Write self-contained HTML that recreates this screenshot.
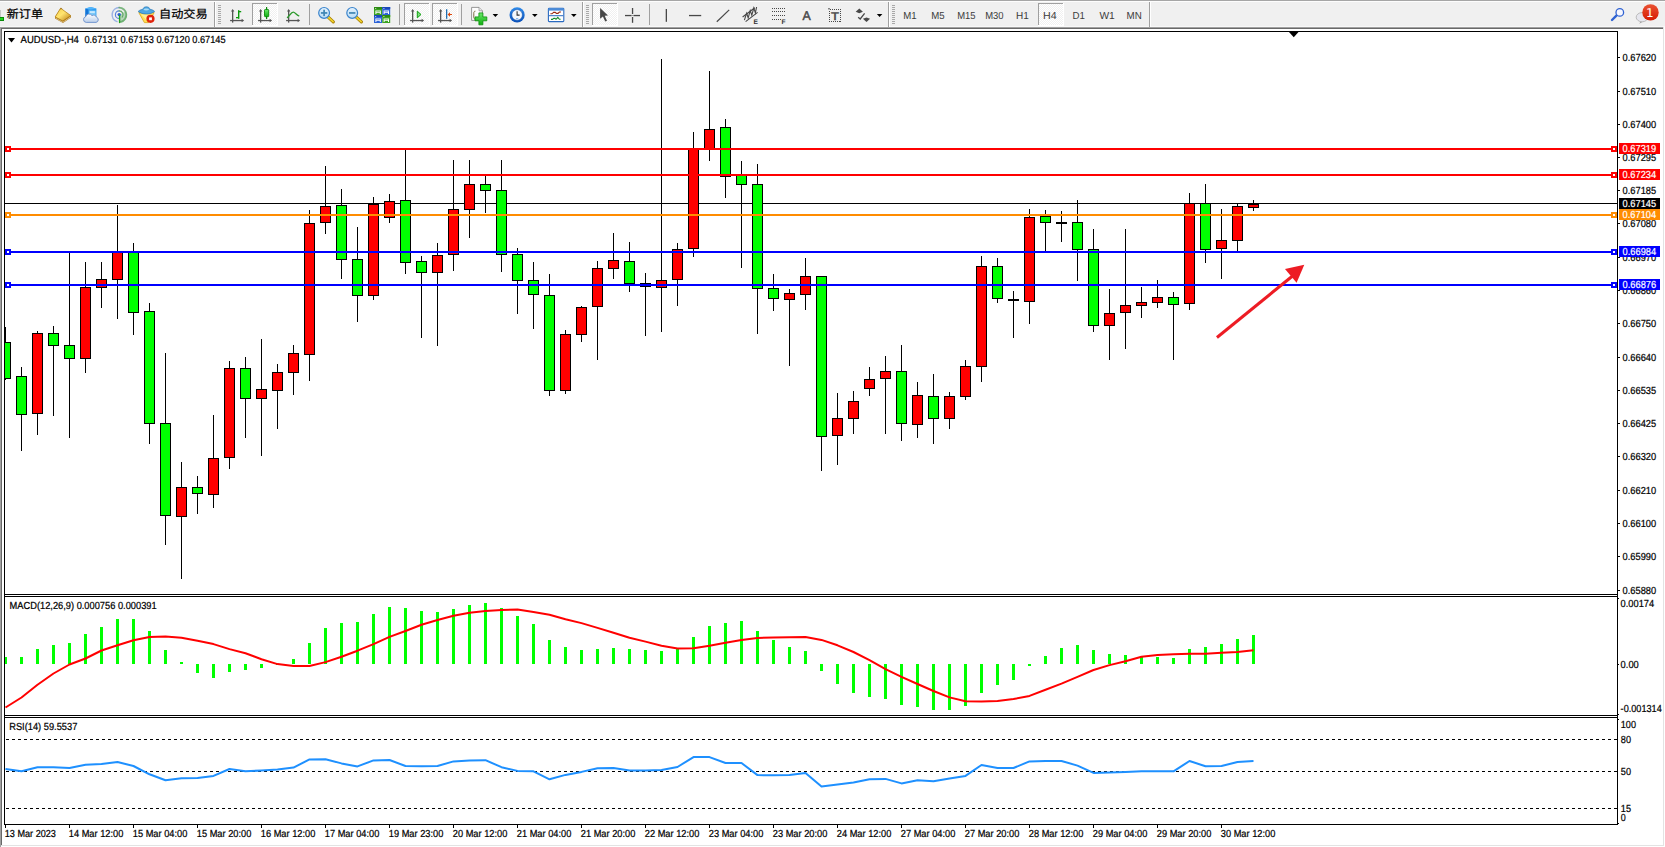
<!DOCTYPE html>
<html lang="zh"><head><meta charset="utf-8"><title>AUDUSD-,H4</title>
<style>html,body{margin:0;padding:0;background:#fff;overflow:hidden}svg{display:block}text{white-space:pre}</style>
</head><body>
<svg width="1665" height="847" viewBox="0 0 1665 847" text-rendering="geometricPrecision" font-family="'Liberation Sans',sans-serif"><rect x="0" y="0" width="1665" height="847" fill="#fff"/>
<rect x="0" y="0" width="1665" height="27" fill="#f0f0f0"/>
<rect x="0" y="0" width="1665" height="1" fill="#a6a6a6"/>
<rect x="0" y="1" width="1665" height="1" fill="#fdfdfd"/>
<rect x="0" y="26" width="1665" height="1" fill="#f8f8f8"/>
<defs>
<pattern id="chk" width="2" height="2" patternUnits="userSpaceOnUse"><rect width="2" height="2" fill="#f0f0f0"/><rect width="1" height="1" fill="#fff"/><rect x="1" y="1" width="1" height="1" fill="#fff"/></pattern>
<linearGradient id="gold" x1="0" y1="0" x2="1" y2="1"><stop offset="0" stop-color="#f7d24a"/><stop offset=".45" stop-color="#ffe470"/><stop offset="1" stop-color="#b87a10"/></linearGradient>
<linearGradient id="badge" x1="0" y1="0" x2="0" y2="1"><stop offset="0" stop-color="#ea5232"/><stop offset="1" stop-color="#d61a02"/></linearGradient>
<linearGradient id="ring" x1="0" y1="0" x2="0" y2="1"><stop offset="0" stop-color="#2e8bea"/><stop offset="1" stop-color="#0a4fb8"/></linearGradient>
<linearGradient id="lens" x1="0" y1="0" x2="0" y2="1"><stop offset="0" stop-color="#e4f2fd"/><stop offset="1" stop-color="#b9dcf6"/></linearGradient>
<linearGradient id="grn" x1="0" y1="0" x2="0" y2="1"><stop offset="0" stop-color="#6ae86a"/><stop offset="1" stop-color="#0fae0f"/></linearGradient>
</defs>
<rect x="0" y="10" width="1" height="7" fill="#c8c8c8"/>
<rect x="0" y="17" width="4" height="4" fill="#0a8a0a"/>
<rect x="0" y="18" width="3" height="2" fill="#22d322"/>
<text x="6.8" y="18.2" font-size="11.5" fill="#000" font-family="'Liberation Sans','Noto Sans CJK SC',sans-serif" textLength="36.2" lengthAdjust="spacingAndGlyphs" stroke="#000" stroke-width=".25">新订单</text>
<g><path d="M55 17L60.4 8.6L71 16L71 17.4L63 23L55 18.4z" fill="#a9741a"/><path d="M55.6 18.1L63 22.1L70.6 16.9" fill="none" stroke="#e8d49a" stroke-width=".8"/><path d="M60.6 8.2L70.8 15.6L62.8 21L55.2 16.9z" fill="url(#gold)" stroke="#b27c14" stroke-width=".7" stroke-linejoin="round"/><path d="M60.2 9.2c.8-.9 1.4-.9 2 -.4" fill="none" stroke="#8a5a0c" stroke-width=".8"/></g>
<defs><linearGradient id="cld" x1="0" y1="0" x2="0" y2="1"><stop offset="0" stop-color="#ffffff"/><stop offset="1" stop-color="#b9cdea"/></linearGradient></defs>
<g><path d="M85.4 8.4L90.6 7l5.8 1.6v8.8H85.4z" fill="#2f9df2"/><path d="M85.4 8.4L88.2 9.6V17.4H85.4z" fill="#1574d6"/><path d="M85.4 8.4L90.6 7l5.8 1.6l-5.6 1z" fill="#56b6fa"/><rect x="89" y="10.6" width="6.6" height="5.6" fill="#7ccaf9"/><rect x="90" y="11.4" width="4.8" height="1.3" fill="#e8f6ff"/><path d="M86.2 22.4a2.9 2.9 0 0 1 -.5-5.7a3.5 3.5 0 0 1 6.3-1.1a3 3 0 0 1 4.5 1.6a2.7 2.7 0 0 1 -.5 5.2z" fill="url(#cld)" stroke="#6a8fcb" stroke-width=".9"/></g>
<g fill="none" stroke-linecap="round"><path d="M119.4 15L119.4 22.6A7.7 7.7 0 0 0 126 11z" fill="#58a85e" opacity=".38" stroke="none"/><g stroke="#4a78da"><path d="M119.2 10.9a3.8 3.8 0 0 0 0 7.6" stroke-width="1.2" opacity=".9"/><path d="M119.2 7.6a7.2 7.2 0 0 0 -2.2 14" stroke-width="1.5" opacity=".5"/></g><g stroke="#55a35b"><path d="M119.2 10.9a3.8 3.8 0 0 1 3 6.2" stroke-width="1.2" opacity=".9"/><path d="M119.2 7.6a7.2 7.2 0 0 1 1.6 14.2" stroke-width="1.8" opacity=".75"/></g><circle cx="119.2" cy="14.6" r="1.7" fill="#2a5fd0" stroke="none"/><path d="M119.6 15.6V22.6" stroke="#1fa01f" stroke-width="1.4"/></g>
<g><path d="M138.8 12.6L154.2 12.6L148.4 22.6L144.4 22.6z" fill="#ffe055" stroke="#d9a514" stroke-width=".8"/><path d="M141 14.4L151 14.4L146.6 20z" fill="#fff3a8" opacity=".8"/><path d="M138.2 11.4c1.6-1.6 3.6-2 4.6-1.8c.2-2 1.8-2.8 3.6-2.8s3.400 .8 3.600 2.800c1 -.2 3.200 .2 4.600 1.800c-2 1.800 -5.200 2.600 -8.200 2.600s-6.200 -.8 -8.200 -2.600z" fill="#4ea7e2" stroke="#1f6fb0" stroke-width=".6"/><path d="M143.400 9.800c1 -1.600 4.800 -1.600 5.800 0c-1.600 .9 -4.200 .9 -5.800 0z" fill="#a9dcf8"/><circle cx="150.5" cy="18.8" r="4.1" fill="#e0230c"/><rect x="149.1" y="17.4" width="2.8" height="2.8" fill="#fff"/></g>
<text x="159" y="18.2" font-size="11.5" fill="#000" font-family="'Liberation Sans','Noto Sans CJK SC',sans-serif" textLength="48.6" lengthAdjust="spacingAndGlyphs" stroke="#000" stroke-width=".25">自动交易</text>
<rect x="214" y="2" width="1" height="25" fill="#a0a0a0"/>
<rect x="215" y="2" width="1" height="25" fill="#fff"/>
<rect x="218" y="5" width="3" height="1" fill="#a8a8a8"/>
<rect x="218" y="7" width="3" height="1" fill="#a8a8a8"/>
<rect x="218" y="9" width="3" height="1" fill="#a8a8a8"/>
<rect x="218" y="11" width="3" height="1" fill="#a8a8a8"/>
<rect x="218" y="13" width="3" height="1" fill="#a8a8a8"/>
<rect x="218" y="15" width="3" height="1" fill="#a8a8a8"/>
<rect x="218" y="17" width="3" height="1" fill="#a8a8a8"/>
<rect x="218" y="19" width="3" height="1" fill="#a8a8a8"/>
<rect x="218" y="21" width="3" height="1" fill="#a8a8a8"/>
<rect x="218" y="23" width="3" height="1" fill="#a8a8a8"/>
<g fill="#555"><rect x="232" y="10" width="1.3" height="12.6"/><rect x="230.1" y="19.9" width="13" height="1.3"/><path d="M232.65 8.9l1.7 2.5h-3.4z"/><path d="M244.1 20.55l-2.5 1.7v-3.4z"/></g>
<g fill="#0c9a0c"><rect x="238" y="10.2" width="1.4" height="8.6"/><rect x="236" y="17" width="2.6" height="1.3"/><rect x="238.6" y="11" width="2.6" height="1.3"/></g>
<rect x="252" y="3" width="26" height="23" fill="url(#chk)"/>
<rect x="252" y="3" width="26" height="1" fill="#a0a0a0"/>
<rect x="252" y="3" width="1" height="23" fill="#a0a0a0"/>
<rect x="252" y="25" width="26" height="1" fill="#fff"/>
<rect x="277" y="3" width="1" height="23" fill="#fff"/>
<g fill="#555"><rect x="260" y="10" width="1.3" height="12.6"/><rect x="258.1" y="19.9" width="13" height="1.3"/><path d="M260.65 8.9l1.7 2.5h-3.4z"/><path d="M272.1 20.55l-2.5 1.7v-3.4z"/></g>
<g><rect x="266" y="7" width="1.2" height="12" fill="#0a8a0a"/><rect x="264.5" y="9.5" width="4.2" height="7.2" rx=".8" fill="url(#grn)" stroke="#0a8a0a" stroke-width=".9"/></g>
<g fill="#555"><rect x="288" y="10" width="1.3" height="12.6"/><rect x="286.1" y="19.9" width="13" height="1.3"/><path d="M288.65 8.9l1.7 2.5h-3.4z"/><path d="M300.1 20.55l-2.5 1.7v-3.4z"/></g>
<path d="M287.4 17.6C290 15 291.4 12.2 293.2 12.2C295 12.2 296.4 15.2 298.8 15.9" fill="none" stroke="#2c9a2c" stroke-width="1.3" stroke-linecap="round"/>
<rect x="309" y="4" width="1" height="21" fill="#a0a0a0"/>
<g><path d="M327.70000000000005 16.6L333.3 21.9" stroke="#a67c00" stroke-width="3.2" stroke-linecap="round"/><path d="M327.90000000000003 16.8L333.1 21.7" stroke="#f0d22c" stroke-width="1.7" stroke-linecap="round"/><circle cx="324.1" cy="12.9" r="5.4" fill="url(#lens)" stroke="#3a84cc" stroke-width="1.2"/><rect x="320.90000000000003" y="12.1" width="6.4" height="1.7" fill="#3f86b4"/><rect x="323.25" y="9.7" width="1.7" height="6.4" fill="#3f86b4"/></g>
<g><path d="M355.8 16.6L361.4 21.9" stroke="#a67c00" stroke-width="3.2" stroke-linecap="round"/><path d="M356.0 16.8L361.2 21.7" stroke="#f0d22c" stroke-width="1.7" stroke-linecap="round"/><circle cx="352.2" cy="12.9" r="5.4" fill="url(#lens)" stroke="#3a84cc" stroke-width="1.2"/><rect x="349.0" y="12.1" width="6.4" height="1.7" fill="#3f86b4"/></g>
<g><rect x="374" y="7" width="8" height="8" fill="#3ba321"/><rect x="374" y="7" width="8" height="2" fill="#2b8a12"/><rect x="375.2" y="8" width="1" height="1" fill="#fff" opacity=".8"/><path d="M375.4 10.4h5.4v3.6h-1v-1.2h-3.4v1.2h-1z" fill="#fff"/><rect x="376.2" y="11.1" width="3.8" height="0.9" fill="#3ba321" opacity=".55"/></g>
<g><rect x="382.2" y="7" width="8" height="8" fill="#2d63d8"/><rect x="382.2" y="7" width="8" height="2" fill="#1a47b8"/><rect x="383.4" y="8" width="1" height="1" fill="#fff" opacity=".8"/><path d="M383.59999999999997 10.4h5.4v3.6h-1v-1.2h-3.4v1.2h-1z" fill="#fff"/><rect x="384.4" y="11.1" width="3.8" height="0.9" fill="#2d63d8" opacity=".55"/></g>
<g><rect x="374" y="15" width="8" height="8" fill="#2d63d8"/><rect x="374" y="15" width="8" height="2" fill="#1a47b8"/><rect x="375.2" y="16" width="1" height="1" fill="#fff" opacity=".8"/><path d="M375.4 18.4h5.4v3.6h-1v-1.2h-3.4v1.2h-1z" fill="#fff"/><rect x="376.2" y="19.1" width="3.8" height="0.9" fill="#2d63d8" opacity=".55"/></g>
<g><rect x="382.2" y="15" width="8" height="8" fill="#3ba321"/><rect x="382.2" y="15" width="8" height="2" fill="#2b8a12"/><rect x="383.4" y="16" width="1" height="1" fill="#fff" opacity=".8"/><path d="M383.59999999999997 18.4h5.4v3.6h-1v-1.2h-3.4v1.2h-1z" fill="#fff"/><rect x="384.4" y="19.1" width="3.8" height="0.9" fill="#3ba321" opacity=".55"/></g>
<rect x="399" y="4" width="1" height="21" fill="#a0a0a0"/>
<rect x="404" y="3" width="26" height="23" fill="url(#chk)"/>
<rect x="404" y="3" width="26" height="1" fill="#a0a0a0"/>
<rect x="404" y="3" width="1" height="23" fill="#a0a0a0"/>
<rect x="404" y="25" width="26" height="1" fill="#fff"/>
<rect x="429" y="3" width="1" height="23" fill="#fff"/>
<g fill="#555"><rect x="412" y="10" width="1.3" height="12.6"/><rect x="410.1" y="19.9" width="13" height="1.3"/><path d="M412.65 8.9l1.7 2.5h-3.4z"/><path d="M424.1 20.55l-2.5 1.7v-3.4z"/></g>
<path d="M417.3 11.2L421 14.5L417.3 17.8z" fill="#7be07b" stroke="#12a012" stroke-width="1" stroke-linejoin="round"/>
<rect x="432" y="3" width="26" height="23" fill="url(#chk)"/>
<rect x="432" y="3" width="26" height="1" fill="#a0a0a0"/>
<rect x="432" y="3" width="1" height="23" fill="#a0a0a0"/>
<rect x="432" y="25" width="26" height="1" fill="#fff"/>
<rect x="457" y="3" width="1" height="23" fill="#fff"/>
<g fill="#555"><rect x="440" y="10" width="1.3" height="12.6"/><rect x="438.1" y="19.9" width="13" height="1.3"/><path d="M440.65 8.9l1.7 2.5h-3.4z"/><path d="M452.1 20.55l-2.5 1.7v-3.4z"/></g>
<g><rect x="446" y="9.2" width="1.3" height="9.6" fill="#1f6fb4"/><path d="M447.6 14.5L450 12.3V13.9H452V15.1H450V16.7z" fill="#e0480a"/></g>
<rect x="461" y="4" width="1" height="21" fill="#a0a0a0"/>
<g><path d="M471.6 7.4h7.4l3.4 3.4v9.6h-10.8z" fill="#fdfdfd" stroke="#8c8c8c" stroke-width=".9"/><path d="M479 7.4v3.4h3.4" fill="#e6e6e6" stroke="#8c8c8c" stroke-width=".7"/><path d="M475.4 11.2c-1.4 0-1.6 1-1.6 2v4c0 1 .2 1.8 1.4 1.8" fill="none" stroke="#6b5a2a" stroke-width=".9"/><path d="M478.9 12.9h4v4h3.9v3.9h-3.9v4h-4v-4h-3.9v-3.9h3.9z" fill="url(#grn)" stroke="#089008" stroke-width=".8"/></g>
<path d="M492.6 13.9h5.6l-2.8 3.1z" fill="#000"/>
<g><circle cx="517.1" cy="14.9" r="7.6" fill="url(#ring)"/><circle cx="517.1" cy="14.9" r="5.3" fill="#f4f8fc" stroke="#0a4aa8" stroke-width=".5"/><path d="M517.1 11.2V15.1H519.6" fill="none" stroke="#333" stroke-width="1.1"/><rect x="516" y="18" width="2.2" height=".9" fill="#7db4ee"/></g>
<path d="M532 13.9h5.6l-2.8 3.1z" fill="#000"/>
<g><rect x="548.4" y="8.2" width="15.4" height="13.4" rx=".8" fill="#fff" stroke="#2a6ac0" stroke-width="1.1"/><rect x="548.4" y="8.2" width="15.4" height="2.4" fill="#4a8ad8"/><rect x="549" y="15.2" width="14.2" height="1" fill="#2a6ac0"/><path d="M550.4 13.8h1.6l1.6-1.4h1.6l1.2 1h1.6l1.4-1.4h1.6" fill="none" stroke="#9a2a12" stroke-width="1.1"/><path d="M551 19.4h1.4l1.4-1h1.2l1 .9l1.8-2l1.6 2h1.2" fill="none" stroke="#128a2a" stroke-width="1.1"/></g>
<path d="M571 13.9h5.6l-2.8 3.1z" fill="#000"/>
<rect x="582" y="2" width="1" height="25" fill="#a0a0a0"/>
<rect x="583" y="2" width="1" height="25" fill="#fff"/>
<rect x="586" y="5" width="3" height="1" fill="#a8a8a8"/>
<rect x="586" y="7" width="3" height="1" fill="#a8a8a8"/>
<rect x="586" y="9" width="3" height="1" fill="#a8a8a8"/>
<rect x="586" y="11" width="3" height="1" fill="#a8a8a8"/>
<rect x="586" y="13" width="3" height="1" fill="#a8a8a8"/>
<rect x="586" y="15" width="3" height="1" fill="#a8a8a8"/>
<rect x="586" y="17" width="3" height="1" fill="#a8a8a8"/>
<rect x="586" y="19" width="3" height="1" fill="#a8a8a8"/>
<rect x="586" y="21" width="3" height="1" fill="#a8a8a8"/>
<rect x="586" y="23" width="3" height="1" fill="#a8a8a8"/>
<rect x="592" y="3" width="26" height="23" fill="url(#chk)"/>
<rect x="592" y="3" width="26" height="1" fill="#a0a0a0"/>
<rect x="592" y="3" width="1" height="23" fill="#a0a0a0"/>
<rect x="592" y="25" width="26" height="1" fill="#fff"/>
<rect x="617" y="3" width="1" height="23" fill="#fff"/>
<path d="M600.1 7.9V18.8L602.9 16.4L605.2 21.6L607 20.8L604.7 15.7L608 15.5z" fill="#474747"/>
<g fill="#484848"><rect x="625" y="14.9" width="6.6" height="1.3"/><rect x="633.4" y="14.9" width="6.6" height="1.3"/><rect x="631.9" y="8" width="1.3" height="6"/><rect x="631.9" y="17" width="1.3" height="5.8"/><rect x="632.2" y="15.2" width=".7" height=".7"/></g>
<rect x="649" y="4" width="1" height="21" fill="#a0a0a0"/>
<rect x="665.7" y="9" width="1.3" height="12.8" fill="#484848"/>
<rect x="689" y="14.9" width="12.2" height="1.3" fill="#484848"/>
<path d="M716.8 21.8L729.2 9.9" stroke="#484848" stroke-width="1.2"/>
<g stroke="#484848" fill="none" stroke-width="1.1"><path d="M742.6 17L754.8 7.800M745.6 21.600L757.600 12.400"/><path d="M744.400 20.200L746.600 13.200L748.200 17.800L750.200 10.600L751.800 15.200L753.800 8L755.400 12.800L756.600 7"/></g>
<text x="753.6" y="23.8" font-size="6.6" fill="#333" font-weight="bold">E</text>
<g stroke="#484848" stroke-width="1" stroke-dasharray="1 1" fill="none" shape-rendering="crispEdges"><path d="M772 8.5h13M772 11.5h13M772 15.5h13M772 19.5h9"/></g>
<text x="781.4" y="23.8" font-size="6.6" fill="#333" font-weight="bold">F</text>
<text transform="translate(802.4 19.8) scale(0.9605 1)" font-size="12.8" fill="#484848" stroke="#484848" stroke-width=".5">A</text>
<rect x="829.5" y="9.5" width="11" height="12" fill="none" stroke="#484848" stroke-width="1" stroke-dasharray="1 1" shape-rendering="crispEdges"/><rect x="828.2" y="8.2" width="1.6" height="1.2" fill="#484848"/>
<text transform="translate(831 19.8) scale(1.1906 1)" font-size="11" fill="#484848" stroke="#484848" stroke-width=".45">T</text>
<g fill="#484848"><path d="M859.3 8.6l3.600 3.200l-3.600 1.400l-3.600 -1.400z"/><path d="M866.5 22l3.600 -3.200l-3.600 -1.400l-3.600 1.400z"/><path d="M858.2 17.200l2 1.800l4.400 -5.600" fill="none" stroke="#484848" stroke-width="1.300"/></g>
<path d="M876.8 13.9h5.6l-2.8 3.1z" fill="#000"/>
<rect x="888" y="2" width="1" height="25" fill="#a0a0a0"/>
<rect x="889" y="2" width="1" height="25" fill="#fff"/>
<rect x="892" y="5" width="3" height="1" fill="#a8a8a8"/>
<rect x="892" y="7" width="3" height="1" fill="#a8a8a8"/>
<rect x="892" y="9" width="3" height="1" fill="#a8a8a8"/>
<rect x="892" y="11" width="3" height="1" fill="#a8a8a8"/>
<rect x="892" y="13" width="3" height="1" fill="#a8a8a8"/>
<rect x="892" y="15" width="3" height="1" fill="#a8a8a8"/>
<rect x="892" y="17" width="3" height="1" fill="#a8a8a8"/>
<rect x="892" y="19" width="3" height="1" fill="#a8a8a8"/>
<rect x="892" y="21" width="3" height="1" fill="#a8a8a8"/>
<rect x="892" y="23" width="3" height="1" fill="#a8a8a8"/>
<rect x="1038" y="3" width="26" height="23" fill="url(#chk)"/>
<rect x="1038" y="3" width="26" height="1" fill="#a0a0a0"/>
<rect x="1038" y="3" width="1" height="23" fill="#a0a0a0"/>
<rect x="1038" y="25" width="26" height="1" fill="#fff"/>
<rect x="1063" y="3" width="1" height="23" fill="#fff"/>
<text transform="translate(903.2 19) scale(0.9457 1)" font-size="10.2" fill="#3c3c3c">M1</text>
<text transform="translate(931.2 19) scale(0.9457 1)" font-size="10.2" fill="#3c3c3c">M5</text>
<text transform="translate(957.2 19) scale(0.9273 1)" font-size="10.2" fill="#3c3c3c">M15</text>
<text transform="translate(985.2 19) scale(0.9273 1)" font-size="10.2" fill="#3c3c3c">M30</text>
<text transform="translate(1016 19) scale(0.9817 1)" font-size="10.2" fill="#3c3c3c">H1</text>
<text transform="translate(1043 19) scale(1.0430 1)" font-size="10.2" fill="#3c3c3c">H4</text>
<text transform="translate(1072.4 19) scale(0.9510 1)" font-size="10.2" fill="#3c3c3c">D1</text>
<text transform="translate(1099.4 19) scale(1.0065 1)" font-size="10.2" fill="#3c3c3c">W1</text>
<text transform="translate(1126.6 19) scale(0.9582 1)" font-size="10.2" fill="#3c3c3c">MN</text>
<rect x="1149" y="2" width="1" height="25" fill="#a0a0a0"/>
<rect x="1150" y="2" width="1" height="25" fill="#fff"/>
<g><path d="M1616.4 15.6L1612 20" stroke="#2f62d2" stroke-width="2.4" stroke-linecap="round"/><circle cx="1619.8" cy="12.4" r="3.8" fill="#f6f7ff" stroke="#2f62d2" stroke-width="1.3"/></g>
<g><path d="M1640.6 21.4l-1.4 2.4l3.6-2z" fill="#9a9a9a"/><ellipse cx="1642.1" cy="17.2" rx="5.9" ry="4.6" fill="#e6e6ee" stroke="#b4b4b4" stroke-width=".9"/><circle cx="1650.5" cy="12.4" r="8.2" fill="url(#badge)"/></g>
<text x="1649.7" y="17" font-size="12" fill="#fff" text-anchor="middle" font-family="'DejaVu Sans',sans-serif">1</text>
<rect x="0" y="27" width="1663" height="1" fill="#a0a0a0"/>
<rect x="1" y="28" width="1662" height="1" fill="#696969"/>
<rect x="0" y="27" width="1" height="820" fill="#a0a0a0"/>
<rect x="1" y="28" width="1" height="817" fill="#696969"/>
<rect x="1663" y="27" width="1" height="819" fill="#e3e3e3"/>
<rect x="1" y="845" width="1663" height="1" fill="#e3e3e3"/>
<g fill="#000">
<rect x="4" y="31" width="1614" height="1" fill="#000"/>
<rect x="4" y="594" width="1614" height="1" fill="#000"/>
<rect x="4" y="596" width="1614" height="1" fill="#000"/>
<rect x="4" y="715" width="1614" height="1" fill="#000"/>
<rect x="4" y="717" width="1614" height="1" fill="#000"/>
<rect x="4" y="824" width="1614" height="1" fill="#000"/>
<rect x="4" y="31" width="1" height="794" fill="#000"/>
<rect x="1617" y="31" width="1" height="794" fill="#000"/>
</g>
<g font-family="'Liberation Sans',sans-serif">
<rect x="1618" y="57" width="2" height="1" fill="#000"/>
<text transform="translate(1622.6 61) scale(0.9113 1)" font-size="10.2" fill="#000" stroke="#000" stroke-width=".22">0.67620</text>
<rect x="1618" y="91" width="2" height="1" fill="#000"/>
<text transform="translate(1622.6 95) scale(0.9113 1)" font-size="10.2" fill="#000" stroke="#000" stroke-width=".22">0.67510</text>
<rect x="1618" y="124" width="2" height="1" fill="#000"/>
<text transform="translate(1622.6 128) scale(0.9113 1)" font-size="10.2" fill="#000" stroke="#000" stroke-width=".22">0.67400</text>
<rect x="1618" y="157" width="2" height="1" fill="#000"/>
<text transform="translate(1622.6 161) scale(0.9113 1)" font-size="10.2" fill="#000" stroke="#000" stroke-width=".22">0.67295</text>
<rect x="1618" y="190" width="2" height="1" fill="#000"/>
<text transform="translate(1622.6 194) scale(0.9113 1)" font-size="10.2" fill="#000" stroke="#000" stroke-width=".22">0.67185</text>
<rect x="1618" y="223" width="2" height="1" fill="#000"/>
<text transform="translate(1622.6 227) scale(0.9113 1)" font-size="10.2" fill="#000" stroke="#000" stroke-width=".22">0.67080</text>
<rect x="1618" y="257" width="2" height="1" fill="#000"/>
<text transform="translate(1622.6 261) scale(0.9113 1)" font-size="10.2" fill="#000" stroke="#000" stroke-width=".22">0.66970</text>
<rect x="1618" y="290" width="2" height="1" fill="#000"/>
<text transform="translate(1622.6 294) scale(0.9113 1)" font-size="10.2" fill="#000" stroke="#000" stroke-width=".22">0.66860</text>
<rect x="1618" y="323" width="2" height="1" fill="#000"/>
<text transform="translate(1622.6 327) scale(0.9113 1)" font-size="10.2" fill="#000" stroke="#000" stroke-width=".22">0.66750</text>
<rect x="1618" y="357" width="2" height="1" fill="#000"/>
<text transform="translate(1622.6 361) scale(0.9113 1)" font-size="10.2" fill="#000" stroke="#000" stroke-width=".22">0.66640</text>
<rect x="1618" y="390" width="2" height="1" fill="#000"/>
<text transform="translate(1622.6 394) scale(0.9113 1)" font-size="10.2" fill="#000" stroke="#000" stroke-width=".22">0.66535</text>
<rect x="1618" y="423" width="2" height="1" fill="#000"/>
<text transform="translate(1622.6 427) scale(0.9113 1)" font-size="10.2" fill="#000" stroke="#000" stroke-width=".22">0.66425</text>
<rect x="1618" y="456" width="2" height="1" fill="#000"/>
<text transform="translate(1622.6 460) scale(0.9113 1)" font-size="10.2" fill="#000" stroke="#000" stroke-width=".22">0.66320</text>
<rect x="1618" y="490" width="2" height="1" fill="#000"/>
<text transform="translate(1622.6 494) scale(0.9113 1)" font-size="10.2" fill="#000" stroke="#000" stroke-width=".22">0.66210</text>
<rect x="1618" y="523" width="2" height="1" fill="#000"/>
<text transform="translate(1622.6 527) scale(0.9113 1)" font-size="10.2" fill="#000" stroke="#000" stroke-width=".22">0.66100</text>
<rect x="1618" y="556" width="2" height="1" fill="#000"/>
<text transform="translate(1622.6 560) scale(0.9113 1)" font-size="10.2" fill="#000" stroke="#000" stroke-width=".22">0.65990</text>
<rect x="1618" y="590" width="2" height="1" fill="#000"/>
<text transform="translate(1622.6 594) scale(0.9113 1)" font-size="10.2" fill="#000" stroke="#000" stroke-width=".22">0.65880</text>
<rect x="1618" y="598" width="1" height="1" fill="#000"/>
<text transform="translate(1620.6 607) scale(0.9113 1)" font-size="10.2" fill="#000" stroke="#000" stroke-width=".22">0.00174</text>
<rect x="1618" y="664" width="1" height="1" fill="#000"/>
<text transform="translate(1620.6 668) scale(0.9168 1)" font-size="10.2" fill="#000" stroke="#000" stroke-width=".22">0.00</text>
<rect x="1618" y="714" width="1" height="1" fill="#000"/>
<text transform="translate(1620.6 712) scale(0.8968 1)" font-size="10.2" fill="#000" stroke="#000" stroke-width=".22">-0.001314</text>
<rect x="1618" y="719" width="1" height="1" fill="#000"/>
<text transform="translate(1620.8 728) scale(0.8932 1)" font-size="10.2" fill="#000" stroke="#000" stroke-width=".22">100</text>
<text transform="translate(1620.8 743) scale(0.8990 1)" font-size="10.2" fill="#000" stroke="#000" stroke-width=".22">80</text>
<text transform="translate(1620.8 775) scale(0.8990 1)" font-size="10.2" fill="#000" stroke="#000" stroke-width=".22">50</text>
<text transform="translate(1620.8 812) scale(0.8990 1)" font-size="10.2" fill="#000" stroke="#000" stroke-width=".22">15</text>
<rect x="1618" y="823" width="1" height="1" fill="#000"/>
<text transform="translate(1620.8 821.4) scale(0.8814 1)" font-size="10.2" fill="#000" stroke="#000" stroke-width=".22">0</text>
<rect x="5" y="825" width="1" height="3" fill="#000"/>
<text transform="translate(4.8 837) scale(0.8940 1)" font-size="10.2" fill="#000" stroke="#000" stroke-width=".22">13 Mar 2023</text>
<rect x="69" y="825" width="1" height="3" fill="#000"/>
<text transform="translate(68.8 837) scale(0.9084 1)" font-size="10.2" fill="#000" stroke="#000" stroke-width=".22">14 Mar 12:00</text>
<rect x="133" y="825" width="1" height="3" fill="#000"/>
<text transform="translate(132.8 837) scale(0.9084 1)" font-size="10.2" fill="#000" stroke="#000" stroke-width=".22">15 Mar 04:00</text>
<rect x="197" y="825" width="1" height="3" fill="#000"/>
<text transform="translate(196.8 837) scale(0.9084 1)" font-size="10.2" fill="#000" stroke="#000" stroke-width=".22">15 Mar 20:00</text>
<rect x="261" y="825" width="1" height="3" fill="#000"/>
<text transform="translate(260.8 837) scale(0.9084 1)" font-size="10.2" fill="#000" stroke="#000" stroke-width=".22">16 Mar 12:00</text>
<rect x="325" y="825" width="1" height="3" fill="#000"/>
<text transform="translate(324.8 837) scale(0.9084 1)" font-size="10.2" fill="#000" stroke="#000" stroke-width=".22">17 Mar 04:00</text>
<rect x="389" y="825" width="1" height="3" fill="#000"/>
<text transform="translate(388.8 837) scale(0.9084 1)" font-size="10.2" fill="#000" stroke="#000" stroke-width=".22">19 Mar 23:00</text>
<rect x="453" y="825" width="1" height="3" fill="#000"/>
<text transform="translate(452.8 837) scale(0.9084 1)" font-size="10.2" fill="#000" stroke="#000" stroke-width=".22">20 Mar 12:00</text>
<rect x="517" y="825" width="1" height="3" fill="#000"/>
<text transform="translate(516.8 837) scale(0.9084 1)" font-size="10.2" fill="#000" stroke="#000" stroke-width=".22">21 Mar 04:00</text>
<rect x="581" y="825" width="1" height="3" fill="#000"/>
<text transform="translate(580.8 837) scale(0.9084 1)" font-size="10.2" fill="#000" stroke="#000" stroke-width=".22">21 Mar 20:00</text>
<rect x="645" y="825" width="1" height="3" fill="#000"/>
<text transform="translate(644.8 837) scale(0.9084 1)" font-size="10.2" fill="#000" stroke="#000" stroke-width=".22">22 Mar 12:00</text>
<rect x="709" y="825" width="1" height="3" fill="#000"/>
<text transform="translate(708.8 837) scale(0.9084 1)" font-size="10.2" fill="#000" stroke="#000" stroke-width=".22">23 Mar 04:00</text>
<rect x="773" y="825" width="1" height="3" fill="#000"/>
<text transform="translate(772.8 837) scale(0.9084 1)" font-size="10.2" fill="#000" stroke="#000" stroke-width=".22">23 Mar 20:00</text>
<rect x="837" y="825" width="1" height="3" fill="#000"/>
<text transform="translate(836.8 837) scale(0.9084 1)" font-size="10.2" fill="#000" stroke="#000" stroke-width=".22">24 Mar 12:00</text>
<rect x="901" y="825" width="1" height="3" fill="#000"/>
<text transform="translate(900.8 837) scale(0.9084 1)" font-size="10.2" fill="#000" stroke="#000" stroke-width=".22">27 Mar 04:00</text>
<rect x="965" y="825" width="1" height="3" fill="#000"/>
<text transform="translate(964.8 837) scale(0.9084 1)" font-size="10.2" fill="#000" stroke="#000" stroke-width=".22">27 Mar 20:00</text>
<rect x="1029" y="825" width="1" height="3" fill="#000"/>
<text transform="translate(1028.8 837) scale(0.9084 1)" font-size="10.2" fill="#000" stroke="#000" stroke-width=".22">28 Mar 12:00</text>
<rect x="1093" y="825" width="1" height="3" fill="#000"/>
<text transform="translate(1092.8 837) scale(0.9084 1)" font-size="10.2" fill="#000" stroke="#000" stroke-width=".22">29 Mar 04:00</text>
<rect x="1157" y="825" width="1" height="3" fill="#000"/>
<text transform="translate(1156.8 837) scale(0.9084 1)" font-size="10.2" fill="#000" stroke="#000" stroke-width=".22">29 Mar 20:00</text>
<rect x="1221" y="825" width="1" height="3" fill="#000"/>
<text transform="translate(1220.8 837) scale(0.9084 1)" font-size="10.2" fill="#000" stroke="#000" stroke-width=".22">30 Mar 12:00</text>
<path d="M8 38h7l-3.5 4.5z" fill="#000"/>
<text transform="translate(20.6 43) scale(0.9368 1)" font-size="10.2" fill="#000" stroke="#000" stroke-width=".22">AUDUSD-,H4</text>
<text transform="translate(84.4 43) scale(0.9032 1)" font-size="10.2" fill="#000" stroke="#000" stroke-width=".22">0.67131</text>
<text transform="translate(120.5 43) scale(0.9032 1)" font-size="10.2" fill="#000" stroke="#000" stroke-width=".22">0.67153</text>
<text transform="translate(156.5 43) scale(0.9032 1)" font-size="10.2" fill="#000" stroke="#000" stroke-width=".22">0.67120</text>
<text transform="translate(192.3 43) scale(0.9032 1)" font-size="10.2" fill="#000" stroke="#000" stroke-width=".22">0.67145</text>
<text transform="translate(9.6 609) scale(0.9108 1)" font-size="10.2" fill="#000" stroke="#000" stroke-width=".22">MACD(12,26,9) 0.000756 0.000391</text>
<text transform="translate(9.2 730) scale(0.9112 1)" font-size="10.2" fill="#000" stroke="#000" stroke-width=".22">RSI(14) 59.5537</text>
</g>
<g shape-rendering="crispEdges">
<rect x="5" y="203" width="1612" height="1" fill="#000"/>
<rect x="5" y="327" width="1" height="53" fill="#000"/>
<rect x="5" y="342" width="6" height="37" fill="#000"/>
<rect x="5" y="343" width="5" height="35" fill="#00ff00"/>
<rect x="21" y="367" width="1" height="84" fill="#000"/>
<rect x="16" y="376" width="11" height="39" fill="#000"/>
<rect x="17" y="377" width="9" height="37" fill="#00ff00"/>
<rect x="37" y="331" width="1" height="104" fill="#000"/>
<rect x="32" y="333" width="11" height="81" fill="#000"/>
<rect x="33" y="334" width="9" height="79" fill="#ff0000"/>
<rect x="53" y="326" width="1" height="90" fill="#000"/>
<rect x="48" y="333" width="11" height="13" fill="#000"/>
<rect x="49" y="334" width="9" height="11" fill="#00ff00"/>
<rect x="69" y="252" width="1" height="186" fill="#000"/>
<rect x="64" y="345" width="11" height="14" fill="#000"/>
<rect x="65" y="346" width="9" height="12" fill="#00ff00"/>
<rect x="85" y="262" width="1" height="111" fill="#000"/>
<rect x="80" y="287" width="11" height="72" fill="#000"/>
<rect x="81" y="288" width="9" height="70" fill="#ff0000"/>
<rect x="101" y="262" width="1" height="46" fill="#000"/>
<rect x="96" y="279" width="11" height="9" fill="#000"/>
<rect x="97" y="280" width="9" height="7" fill="#ff0000"/>
<rect x="117" y="205" width="1" height="114" fill="#000"/>
<rect x="112" y="252" width="11" height="28" fill="#000"/>
<rect x="113" y="253" width="9" height="26" fill="#ff0000"/>
<rect x="133" y="243" width="1" height="92" fill="#000"/>
<rect x="128" y="252" width="11" height="61" fill="#000"/>
<rect x="129" y="253" width="9" height="59" fill="#00ff00"/>
<rect x="149" y="303" width="1" height="141" fill="#000"/>
<rect x="144" y="311" width="11" height="113" fill="#000"/>
<rect x="145" y="312" width="9" height="111" fill="#00ff00"/>
<rect x="165" y="353" width="1" height="192" fill="#000"/>
<rect x="160" y="423" width="11" height="93" fill="#000"/>
<rect x="161" y="424" width="9" height="91" fill="#00ff00"/>
<rect x="181" y="462" width="1" height="117" fill="#000"/>
<rect x="176" y="487" width="11" height="30" fill="#000"/>
<rect x="177" y="488" width="9" height="28" fill="#ff0000"/>
<rect x="197" y="476" width="1" height="38" fill="#000"/>
<rect x="192" y="487" width="11" height="7" fill="#000"/>
<rect x="193" y="488" width="9" height="5" fill="#00ff00"/>
<rect x="213" y="415" width="1" height="93" fill="#000"/>
<rect x="208" y="458" width="11" height="37" fill="#000"/>
<rect x="209" y="459" width="9" height="35" fill="#ff0000"/>
<rect x="229" y="361" width="1" height="108" fill="#000"/>
<rect x="224" y="368" width="11" height="90" fill="#000"/>
<rect x="225" y="369" width="9" height="88" fill="#ff0000"/>
<rect x="245" y="357" width="1" height="81" fill="#000"/>
<rect x="240" y="368" width="11" height="31" fill="#000"/>
<rect x="241" y="369" width="9" height="29" fill="#00ff00"/>
<rect x="261" y="339" width="1" height="117" fill="#000"/>
<rect x="256" y="389" width="11" height="10" fill="#000"/>
<rect x="257" y="390" width="9" height="8" fill="#ff0000"/>
<rect x="277" y="364" width="1" height="65" fill="#000"/>
<rect x="272" y="372" width="11" height="19" fill="#000"/>
<rect x="273" y="373" width="9" height="17" fill="#ff0000"/>
<rect x="293" y="345" width="1" height="50" fill="#000"/>
<rect x="288" y="353" width="11" height="20" fill="#000"/>
<rect x="289" y="354" width="9" height="18" fill="#ff0000"/>
<rect x="309" y="210" width="1" height="171" fill="#000"/>
<rect x="304" y="223" width="11" height="132" fill="#000"/>
<rect x="305" y="224" width="9" height="130" fill="#ff0000"/>
<rect x="325" y="166" width="1" height="68" fill="#000"/>
<rect x="320" y="206" width="11" height="17" fill="#000"/>
<rect x="321" y="207" width="9" height="15" fill="#ff0000"/>
<rect x="341" y="189" width="1" height="90" fill="#000"/>
<rect x="336" y="205" width="11" height="55" fill="#000"/>
<rect x="337" y="206" width="9" height="53" fill="#00ff00"/>
<rect x="357" y="227" width="1" height="95" fill="#000"/>
<rect x="352" y="259" width="11" height="37" fill="#000"/>
<rect x="353" y="260" width="9" height="35" fill="#00ff00"/>
<rect x="373" y="197" width="1" height="103" fill="#000"/>
<rect x="368" y="204" width="11" height="92" fill="#000"/>
<rect x="369" y="205" width="9" height="90" fill="#ff0000"/>
<rect x="389" y="194" width="1" height="29" fill="#000"/>
<rect x="384" y="201" width="11" height="17" fill="#000"/>
<rect x="385" y="202" width="9" height="15" fill="#ff0000"/>
<rect x="405" y="150" width="1" height="124" fill="#000"/>
<rect x="400" y="200" width="11" height="63" fill="#000"/>
<rect x="401" y="201" width="9" height="61" fill="#00ff00"/>
<rect x="421" y="256" width="1" height="82" fill="#000"/>
<rect x="416" y="261" width="11" height="12" fill="#000"/>
<rect x="417" y="262" width="9" height="10" fill="#00ff00"/>
<rect x="437" y="243" width="1" height="103" fill="#000"/>
<rect x="432" y="255" width="11" height="18" fill="#000"/>
<rect x="433" y="256" width="9" height="16" fill="#ff0000"/>
<rect x="453" y="160" width="1" height="111" fill="#000"/>
<rect x="448" y="209" width="11" height="46" fill="#000"/>
<rect x="449" y="210" width="9" height="44" fill="#ff0000"/>
<rect x="469" y="160" width="1" height="78" fill="#000"/>
<rect x="464" y="184" width="11" height="26" fill="#000"/>
<rect x="465" y="185" width="9" height="24" fill="#ff0000"/>
<rect x="485" y="175" width="1" height="38" fill="#000"/>
<rect x="480" y="184" width="11" height="7" fill="#000"/>
<rect x="481" y="185" width="9" height="5" fill="#00ff00"/>
<rect x="501" y="160" width="1" height="112" fill="#000"/>
<rect x="496" y="190" width="11" height="65" fill="#000"/>
<rect x="497" y="191" width="9" height="63" fill="#00ff00"/>
<rect x="517" y="248" width="1" height="66" fill="#000"/>
<rect x="512" y="254" width="11" height="27" fill="#000"/>
<rect x="513" y="255" width="9" height="25" fill="#00ff00"/>
<rect x="533" y="262" width="1" height="67" fill="#000"/>
<rect x="528" y="280" width="11" height="15" fill="#000"/>
<rect x="529" y="281" width="9" height="13" fill="#00ff00"/>
<rect x="549" y="274" width="1" height="122" fill="#000"/>
<rect x="544" y="295" width="11" height="96" fill="#000"/>
<rect x="545" y="296" width="9" height="94" fill="#00ff00"/>
<rect x="565" y="330" width="1" height="64" fill="#000"/>
<rect x="560" y="334" width="11" height="57" fill="#000"/>
<rect x="561" y="335" width="9" height="55" fill="#ff0000"/>
<rect x="581" y="306" width="1" height="36" fill="#000"/>
<rect x="576" y="307" width="11" height="28" fill="#000"/>
<rect x="577" y="308" width="9" height="26" fill="#ff0000"/>
<rect x="597" y="261" width="1" height="99" fill="#000"/>
<rect x="592" y="268" width="11" height="39" fill="#000"/>
<rect x="593" y="269" width="9" height="37" fill="#ff0000"/>
<rect x="613" y="233" width="1" height="46" fill="#000"/>
<rect x="608" y="260" width="11" height="9" fill="#000"/>
<rect x="609" y="261" width="9" height="7" fill="#ff0000"/>
<rect x="629" y="242" width="1" height="50" fill="#000"/>
<rect x="624" y="261" width="11" height="23" fill="#000"/>
<rect x="625" y="262" width="9" height="21" fill="#00ff00"/>
<rect x="645" y="273" width="1" height="63" fill="#000"/>
<rect x="640" y="283" width="11" height="4" fill="#000"/>
<rect x="641" y="284" width="9" height="2" fill="#00ff00"/>
<rect x="661" y="59" width="1" height="273" fill="#000"/>
<rect x="656" y="280" width="11" height="8" fill="#000"/>
<rect x="657" y="281" width="9" height="6" fill="#ff0000"/>
<rect x="677" y="243" width="1" height="63" fill="#000"/>
<rect x="672" y="249" width="11" height="31" fill="#000"/>
<rect x="673" y="250" width="9" height="29" fill="#ff0000"/>
<rect x="693" y="132" width="1" height="125" fill="#000"/>
<rect x="688" y="148" width="11" height="101" fill="#000"/>
<rect x="689" y="149" width="9" height="99" fill="#ff0000"/>
<rect x="709" y="71" width="1" height="90" fill="#000"/>
<rect x="704" y="129" width="11" height="21" fill="#000"/>
<rect x="705" y="130" width="9" height="19" fill="#ff0000"/>
<rect x="725" y="119" width="1" height="79" fill="#000"/>
<rect x="720" y="127" width="11" height="50" fill="#000"/>
<rect x="721" y="128" width="9" height="48" fill="#00ff00"/>
<rect x="741" y="161" width="1" height="107" fill="#000"/>
<rect x="736" y="175" width="11" height="10" fill="#000"/>
<rect x="737" y="176" width="9" height="8" fill="#00ff00"/>
<rect x="757" y="164" width="1" height="170" fill="#000"/>
<rect x="752" y="184" width="11" height="105" fill="#000"/>
<rect x="753" y="185" width="9" height="103" fill="#00ff00"/>
<rect x="773" y="274" width="1" height="37" fill="#000"/>
<rect x="768" y="288" width="11" height="11" fill="#000"/>
<rect x="769" y="289" width="9" height="9" fill="#00ff00"/>
<rect x="789" y="289" width="1" height="77" fill="#000"/>
<rect x="784" y="293" width="11" height="7" fill="#000"/>
<rect x="785" y="294" width="9" height="5" fill="#ff0000"/>
<rect x="805" y="258" width="1" height="52" fill="#000"/>
<rect x="800" y="276" width="11" height="19" fill="#000"/>
<rect x="801" y="277" width="9" height="17" fill="#ff0000"/>
<rect x="821" y="276" width="1" height="195" fill="#000"/>
<rect x="816" y="276" width="11" height="161" fill="#000"/>
<rect x="817" y="277" width="9" height="159" fill="#00ff00"/>
<rect x="837" y="393" width="1" height="72" fill="#000"/>
<rect x="832" y="418" width="11" height="18" fill="#000"/>
<rect x="833" y="419" width="9" height="16" fill="#ff0000"/>
<rect x="853" y="391" width="1" height="43" fill="#000"/>
<rect x="848" y="401" width="11" height="18" fill="#000"/>
<rect x="849" y="402" width="9" height="16" fill="#ff0000"/>
<rect x="869" y="367" width="1" height="29" fill="#000"/>
<rect x="864" y="379" width="11" height="10" fill="#000"/>
<rect x="865" y="380" width="9" height="8" fill="#ff0000"/>
<rect x="885" y="356" width="1" height="78" fill="#000"/>
<rect x="880" y="371" width="11" height="8" fill="#000"/>
<rect x="881" y="372" width="9" height="6" fill="#ff0000"/>
<rect x="901" y="345" width="1" height="96" fill="#000"/>
<rect x="896" y="371" width="11" height="53" fill="#000"/>
<rect x="897" y="372" width="9" height="51" fill="#00ff00"/>
<rect x="917" y="382" width="1" height="56" fill="#000"/>
<rect x="912" y="395" width="11" height="30" fill="#000"/>
<rect x="913" y="396" width="9" height="28" fill="#ff0000"/>
<rect x="933" y="374" width="1" height="70" fill="#000"/>
<rect x="928" y="396" width="11" height="23" fill="#000"/>
<rect x="929" y="397" width="9" height="21" fill="#00ff00"/>
<rect x="949" y="392" width="1" height="37" fill="#000"/>
<rect x="944" y="396" width="11" height="23" fill="#000"/>
<rect x="945" y="397" width="9" height="21" fill="#ff0000"/>
<rect x="965" y="360" width="1" height="40" fill="#000"/>
<rect x="960" y="366" width="11" height="31" fill="#000"/>
<rect x="961" y="367" width="9" height="29" fill="#ff0000"/>
<rect x="981" y="256" width="1" height="126" fill="#000"/>
<rect x="976" y="266" width="11" height="101" fill="#000"/>
<rect x="977" y="267" width="9" height="99" fill="#ff0000"/>
<rect x="997" y="258" width="1" height="45" fill="#000"/>
<rect x="992" y="266" width="11" height="33" fill="#000"/>
<rect x="993" y="267" width="9" height="31" fill="#00ff00"/>
<rect x="1013" y="291" width="1" height="47" fill="#000"/>
<rect x="1008" y="299" width="11" height="2" fill="#000"/>
<rect x="1029" y="209" width="1" height="115" fill="#000"/>
<rect x="1024" y="217" width="11" height="85" fill="#000"/>
<rect x="1025" y="218" width="9" height="83" fill="#ff0000"/>
<rect x="1045" y="210" width="1" height="42" fill="#000"/>
<rect x="1040" y="216" width="11" height="7" fill="#000"/>
<rect x="1041" y="217" width="9" height="5" fill="#00ff00"/>
<rect x="1061" y="211" width="1" height="31" fill="#000"/>
<rect x="1056" y="222" width="11" height="2" fill="#000"/>
<rect x="1077" y="200" width="1" height="81" fill="#000"/>
<rect x="1072" y="222" width="11" height="28" fill="#000"/>
<rect x="1073" y="223" width="9" height="26" fill="#00ff00"/>
<rect x="1093" y="229" width="1" height="103" fill="#000"/>
<rect x="1088" y="249" width="11" height="77" fill="#000"/>
<rect x="1089" y="250" width="9" height="75" fill="#00ff00"/>
<rect x="1109" y="289" width="1" height="71" fill="#000"/>
<rect x="1104" y="313" width="11" height="13" fill="#000"/>
<rect x="1105" y="314" width="9" height="11" fill="#ff0000"/>
<rect x="1125" y="229" width="1" height="120" fill="#000"/>
<rect x="1120" y="305" width="11" height="8" fill="#000"/>
<rect x="1121" y="306" width="9" height="6" fill="#ff0000"/>
<rect x="1141" y="287" width="1" height="31" fill="#000"/>
<rect x="1136" y="302" width="11" height="4" fill="#000"/>
<rect x="1137" y="303" width="9" height="2" fill="#ff0000"/>
<rect x="1157" y="280" width="1" height="28" fill="#000"/>
<rect x="1152" y="297" width="11" height="6" fill="#000"/>
<rect x="1153" y="298" width="9" height="4" fill="#ff0000"/>
<rect x="1173" y="292" width="1" height="68" fill="#000"/>
<rect x="1168" y="297" width="11" height="8" fill="#000"/>
<rect x="1169" y="298" width="9" height="6" fill="#00ff00"/>
<rect x="1189" y="193" width="1" height="117" fill="#000"/>
<rect x="1184" y="203" width="11" height="101" fill="#000"/>
<rect x="1185" y="204" width="9" height="99" fill="#ff0000"/>
<rect x="1205" y="184" width="1" height="79" fill="#000"/>
<rect x="1200" y="203" width="11" height="47" fill="#000"/>
<rect x="1201" y="204" width="9" height="45" fill="#00ff00"/>
<rect x="1221" y="209" width="1" height="70" fill="#000"/>
<rect x="1216" y="240" width="11" height="9" fill="#000"/>
<rect x="1217" y="241" width="9" height="7" fill="#ff0000"/>
<rect x="1237" y="204" width="1" height="48" fill="#000"/>
<rect x="1232" y="206" width="11" height="35" fill="#000"/>
<rect x="1233" y="207" width="9" height="33" fill="#ff0000"/>
<rect x="1253" y="200" width="1" height="11" fill="#000"/>
<rect x="1248" y="204" width="11" height="4" fill="#000"/>
<rect x="1249" y="205" width="9" height="2" fill="#ff0000"/>
</g>
<path d="M1289 32h9.5l-4.75 5.2z" fill="#000"/>
<g shape-rendering="crispEdges">
<rect x="5" y="148" width="1612" height="2" fill="#ff0000"/>
<rect x="5" y="146" width="6" height="6" fill="#ff0000"/>
<rect x="7" y="148" width="2" height="2" fill="#fff"/>
<rect x="1611" y="146" width="6" height="6" fill="#ff0000"/>
<rect x="1613" y="148" width="2" height="2" fill="#fff"/>
<rect x="5" y="174" width="1612" height="2" fill="#ff0000"/>
<rect x="5" y="172" width="6" height="6" fill="#ff0000"/>
<rect x="7" y="174" width="2" height="2" fill="#fff"/>
<rect x="1611" y="172" width="6" height="6" fill="#ff0000"/>
<rect x="1613" y="174" width="2" height="2" fill="#fff"/>
<rect x="5" y="214" width="1612" height="2" fill="#ff8c00"/>
<rect x="5" y="212" width="6" height="6" fill="#ff8c00"/>
<rect x="7" y="214" width="2" height="2" fill="#fff"/>
<rect x="1611" y="212" width="6" height="6" fill="#ff8c00"/>
<rect x="1613" y="214" width="2" height="2" fill="#fff"/>
<rect x="5" y="251" width="1612" height="2" fill="#0000ff"/>
<rect x="5" y="249" width="6" height="6" fill="#0000ff"/>
<rect x="7" y="251" width="2" height="2" fill="#fff"/>
<rect x="1611" y="249" width="6" height="6" fill="#0000ff"/>
<rect x="1613" y="251" width="2" height="2" fill="#fff"/>
<rect x="5" y="284" width="1612" height="2" fill="#0000ff"/>
<rect x="5" y="282" width="6" height="6" fill="#0000ff"/>
<rect x="7" y="284" width="2" height="2" fill="#fff"/>
<rect x="1611" y="282" width="6" height="6" fill="#0000ff"/>
<rect x="1613" y="284" width="2" height="2" fill="#fff"/>
</g>
<g font-family="'Liberation Sans',sans-serif">
<rect x="1619" y="198" width="41" height="11" fill="#000"/>
<text transform="translate(1622.6 207) scale(0.9113 1)" font-size="10.2" fill="#fff" stroke="#fff" stroke-width=".2">0.67145</text>
<rect x="1619" y="143" width="41" height="11" fill="#ff0000"/>
<text transform="translate(1622.6 152) scale(0.9113 1)" font-size="10.2" fill="#fff" stroke="#fff" stroke-width=".2">0.67319</text>
<rect x="1619" y="169" width="41" height="11" fill="#ff0000"/>
<text transform="translate(1622.6 178) scale(0.9113 1)" font-size="10.2" fill="#fff" stroke="#fff" stroke-width=".2">0.67234</text>
<rect x="1619" y="209" width="41" height="11" fill="#ff8c00"/>
<text transform="translate(1622.6 218) scale(0.9113 1)" font-size="10.2" fill="#fff" stroke="#fff" stroke-width=".2">0.67104</text>
<rect x="1619" y="246" width="41" height="11" fill="#0000ff"/>
<text transform="translate(1622.6 255) scale(0.9113 1)" font-size="10.2" fill="#fff" stroke="#fff" stroke-width=".2">0.66984</text>
<rect x="1619" y="279" width="41" height="11" fill="#0000ff"/>
<text transform="translate(1622.6 288) scale(0.9113 1)" font-size="10.2" fill="#fff" stroke="#fff" stroke-width=".2">0.66876</text>
</g>
<g fill="#ed1c24" stroke="none"><path d="M1216 336.2 L1217.9 338.7 L1293.5 277.2 L1291.6 274.7z"/><path d="M1304.3 264.8 L1285 268.9 L1296.6 282.8z"/></g>
<g shape-rendering="crispEdges" fill="#00ff00">
<rect x="5" y="657" width="2" height="7" fill="#00ff00"/>
<rect x="20" y="657" width="3" height="7" fill="#00ff00"/>
<rect x="36" y="649" width="3" height="15" fill="#00ff00"/>
<rect x="52" y="645" width="3" height="19" fill="#00ff00"/>
<rect x="68" y="643" width="3" height="21" fill="#00ff00"/>
<rect x="84" y="634" width="3" height="30" fill="#00ff00"/>
<rect x="100" y="627" width="3" height="37" fill="#00ff00"/>
<rect x="116" y="619" width="3" height="45" fill="#00ff00"/>
<rect x="132" y="619" width="3" height="45" fill="#00ff00"/>
<rect x="148" y="631" width="3" height="33" fill="#00ff00"/>
<rect x="164" y="650" width="3" height="14" fill="#00ff00"/>
<rect x="180" y="662" width="3" height="2" fill="#00ff00"/>
<rect x="196" y="664" width="3" height="9" fill="#00ff00"/>
<rect x="212" y="664" width="3" height="14" fill="#00ff00"/>
<rect x="228" y="664" width="3" height="8" fill="#00ff00"/>
<rect x="244" y="664" width="3" height="6" fill="#00ff00"/>
<rect x="260" y="664" width="3" height="4" fill="#00ff00"/>
<rect x="276" y="664" width="3" height="1" fill="#00ff00"/>
<rect x="292" y="659" width="3" height="5" fill="#00ff00"/>
<rect x="308" y="643" width="3" height="21" fill="#00ff00"/>
<rect x="324" y="628" width="3" height="36" fill="#00ff00"/>
<rect x="340" y="623" width="3" height="41" fill="#00ff00"/>
<rect x="356" y="622" width="3" height="42" fill="#00ff00"/>
<rect x="372" y="614" width="3" height="50" fill="#00ff00"/>
<rect x="388" y="607" width="3" height="57" fill="#00ff00"/>
<rect x="404" y="608" width="3" height="56" fill="#00ff00"/>
<rect x="420" y="611" width="3" height="53" fill="#00ff00"/>
<rect x="436" y="612" width="3" height="52" fill="#00ff00"/>
<rect x="452" y="609" width="3" height="55" fill="#00ff00"/>
<rect x="468" y="605" width="3" height="59" fill="#00ff00"/>
<rect x="484" y="603" width="3" height="61" fill="#00ff00"/>
<rect x="500" y="608" width="3" height="56" fill="#00ff00"/>
<rect x="516" y="616" width="3" height="48" fill="#00ff00"/>
<rect x="532" y="624" width="3" height="40" fill="#00ff00"/>
<rect x="548" y="640" width="3" height="24" fill="#00ff00"/>
<rect x="564" y="647" width="3" height="17" fill="#00ff00"/>
<rect x="580" y="650" width="3" height="14" fill="#00ff00"/>
<rect x="596" y="649" width="3" height="15" fill="#00ff00"/>
<rect x="612" y="648" width="3" height="16" fill="#00ff00"/>
<rect x="628" y="649" width="3" height="15" fill="#00ff00"/>
<rect x="644" y="650" width="3" height="14" fill="#00ff00"/>
<rect x="660" y="651" width="3" height="13" fill="#00ff00"/>
<rect x="676" y="649" width="3" height="15" fill="#00ff00"/>
<rect x="692" y="637" width="3" height="27" fill="#00ff00"/>
<rect x="708" y="626" width="3" height="38" fill="#00ff00"/>
<rect x="724" y="623" width="3" height="41" fill="#00ff00"/>
<rect x="740" y="621" width="3" height="43" fill="#00ff00"/>
<rect x="756" y="631" width="3" height="33" fill="#00ff00"/>
<rect x="772" y="640" width="3" height="24" fill="#00ff00"/>
<rect x="788" y="647" width="3" height="17" fill="#00ff00"/>
<rect x="804" y="651" width="3" height="13" fill="#00ff00"/>
<rect x="820" y="664" width="3" height="7" fill="#00ff00"/>
<rect x="836" y="664" width="3" height="20" fill="#00ff00"/>
<rect x="852" y="664" width="3" height="29" fill="#00ff00"/>
<rect x="868" y="664" width="3" height="33" fill="#00ff00"/>
<rect x="884" y="664" width="3" height="35" fill="#00ff00"/>
<rect x="900" y="664" width="3" height="41" fill="#00ff00"/>
<rect x="916" y="664" width="3" height="43" fill="#00ff00"/>
<rect x="932" y="664" width="3" height="46" fill="#00ff00"/>
<rect x="948" y="664" width="3" height="46" fill="#00ff00"/>
<rect x="964" y="664" width="3" height="42" fill="#00ff00"/>
<rect x="980" y="664" width="3" height="29" fill="#00ff00"/>
<rect x="996" y="664" width="3" height="21" fill="#00ff00"/>
<rect x="1012" y="664" width="3" height="16" fill="#00ff00"/>
<rect x="1028" y="664" width="3" height="2" fill="#00ff00"/>
<rect x="1044" y="656" width="3" height="8" fill="#00ff00"/>
<rect x="1060" y="648" width="3" height="16" fill="#00ff00"/>
<rect x="1076" y="645" width="3" height="19" fill="#00ff00"/>
<rect x="1092" y="650" width="3" height="14" fill="#00ff00"/>
<rect x="1108" y="654" width="3" height="10" fill="#00ff00"/>
<rect x="1124" y="655" width="3" height="9" fill="#00ff00"/>
<rect x="1140" y="656" width="3" height="8" fill="#00ff00"/>
<rect x="1156" y="657" width="3" height="7" fill="#00ff00"/>
<rect x="1172" y="658" width="3" height="6" fill="#00ff00"/>
<rect x="1188" y="649" width="3" height="15" fill="#00ff00"/>
<rect x="1204" y="647" width="3" height="17" fill="#00ff00"/>
<rect x="1220" y="644" width="3" height="20" fill="#00ff00"/>
<rect x="1236" y="639" width="3" height="25" fill="#00ff00"/>
<rect x="1252" y="635" width="3" height="29" fill="#00ff00"/>
</g>
<polyline points="5.5,707.5 21.5,697.5 37.5,684.8 53.5,673.5 69.5,664.5 85.5,658.5 101.5,650.5 117.5,645.3 133.5,640.2 149.5,636.9 165.5,636.5 181.5,637.7 197.5,640.7 213.5,644.1 229.5,649.1 245.5,653.3 261.5,659.2 277.5,664.1 293.5,666.0 309.5,666.0 325.5,662.1 341.5,656.7 357.5,650.7 373.5,644.1 389.5,636.9 405.5,631.0 421.5,624.8 437.5,620.0 453.5,615.8 469.5,612.8 485.5,611.1 501.5,610.0 517.5,609.5 533.5,612.0 549.5,614.7 565.5,619.2 581.5,623.1 597.5,627.9 613.5,632.7 629.5,637.7 645.5,641.6 661.5,645.8 677.5,648.5 693.5,648.3 709.5,645.8 725.5,642.7 741.5,640.1 757.5,638.0 773.5,637.4 789.5,637.2 805.5,636.9 821.5,639.9 837.5,645.3 853.5,652.0 869.5,660.1 885.5,669.2 901.5,676.9 917.5,684.0 933.5,691.0 949.5,697.4 965.5,701.3 981.5,701.5 997.5,701.1 1013.5,699.1 1029.5,695.9 1045.5,689.7 1061.5,683.6 1077.5,676.9 1093.5,670.0 1109.5,665.1 1125.5,661.2 1141.5,656.7 1157.5,654.9 1173.5,654.2 1189.5,653.7 1205.5,653.7 1221.5,652.8 1237.5,652.0 1253.5,650.3" fill="none" stroke="#ff0000" stroke-width="2" stroke-linejoin="round"/>
<path d="M6 739.5H1617" stroke="#000" stroke-width="1" stroke-dasharray="3 3" fill="none" shape-rendering="crispEdges"/>
<path d="M6 771.5H1617" stroke="#000" stroke-width="1" stroke-dasharray="3 3" fill="none" shape-rendering="crispEdges"/>
<path d="M6 808.5H1617" stroke="#000" stroke-width="1" stroke-dasharray="3 3" fill="none" shape-rendering="crispEdges"/>
<polyline points="5.5,769.0 21.5,771.3 37.5,767.2 53.5,767.3 69.5,768.0 85.5,764.8 101.5,764.0 117.5,762.0 133.5,766.0 149.5,774.3 165.5,780.3 181.5,778.3 197.5,778.1 213.5,775.9 229.5,769.0 245.5,771.3 261.5,770.5 277.5,769.5 293.5,767.6 309.5,759.4 325.5,759.2 341.5,763.4 357.5,766.4 373.5,760.4 389.5,760.0 405.5,766.0 421.5,766.2 437.5,766.0 453.5,761.4 469.5,760.6 485.5,760.2 501.5,767.2 517.5,770.9 533.5,771.3 549.5,779.3 565.5,774.9 581.5,771.9 597.5,768.2 613.5,768.0 629.5,770.5 645.5,770.5 661.5,769.9 677.5,767.0 693.5,757.1 709.5,757.1 725.5,763.0 741.5,763.0 757.5,775.1 773.5,775.3 789.5,775.1 805.5,772.9 821.5,786.4 837.5,784.6 853.5,782.6 869.5,779.3 885.5,778.9 901.5,783.4 917.5,780.3 933.5,781.2 949.5,778.5 965.5,775.9 981.5,765.0 997.5,768.0 1013.5,768.0 1029.5,761.4 1045.5,761.0 1061.5,761.0 1077.5,765.6 1093.5,772.9 1109.5,772.5 1125.5,771.9 1141.5,771.3 1157.5,771.3 1173.5,771.3 1189.5,761.0 1205.5,766.2 1221.5,766.0 1237.5,762.0 1253.5,761.0" fill="none" stroke="#1e90ff" stroke-width="2" stroke-linejoin="round"/></svg>
</body></html>
